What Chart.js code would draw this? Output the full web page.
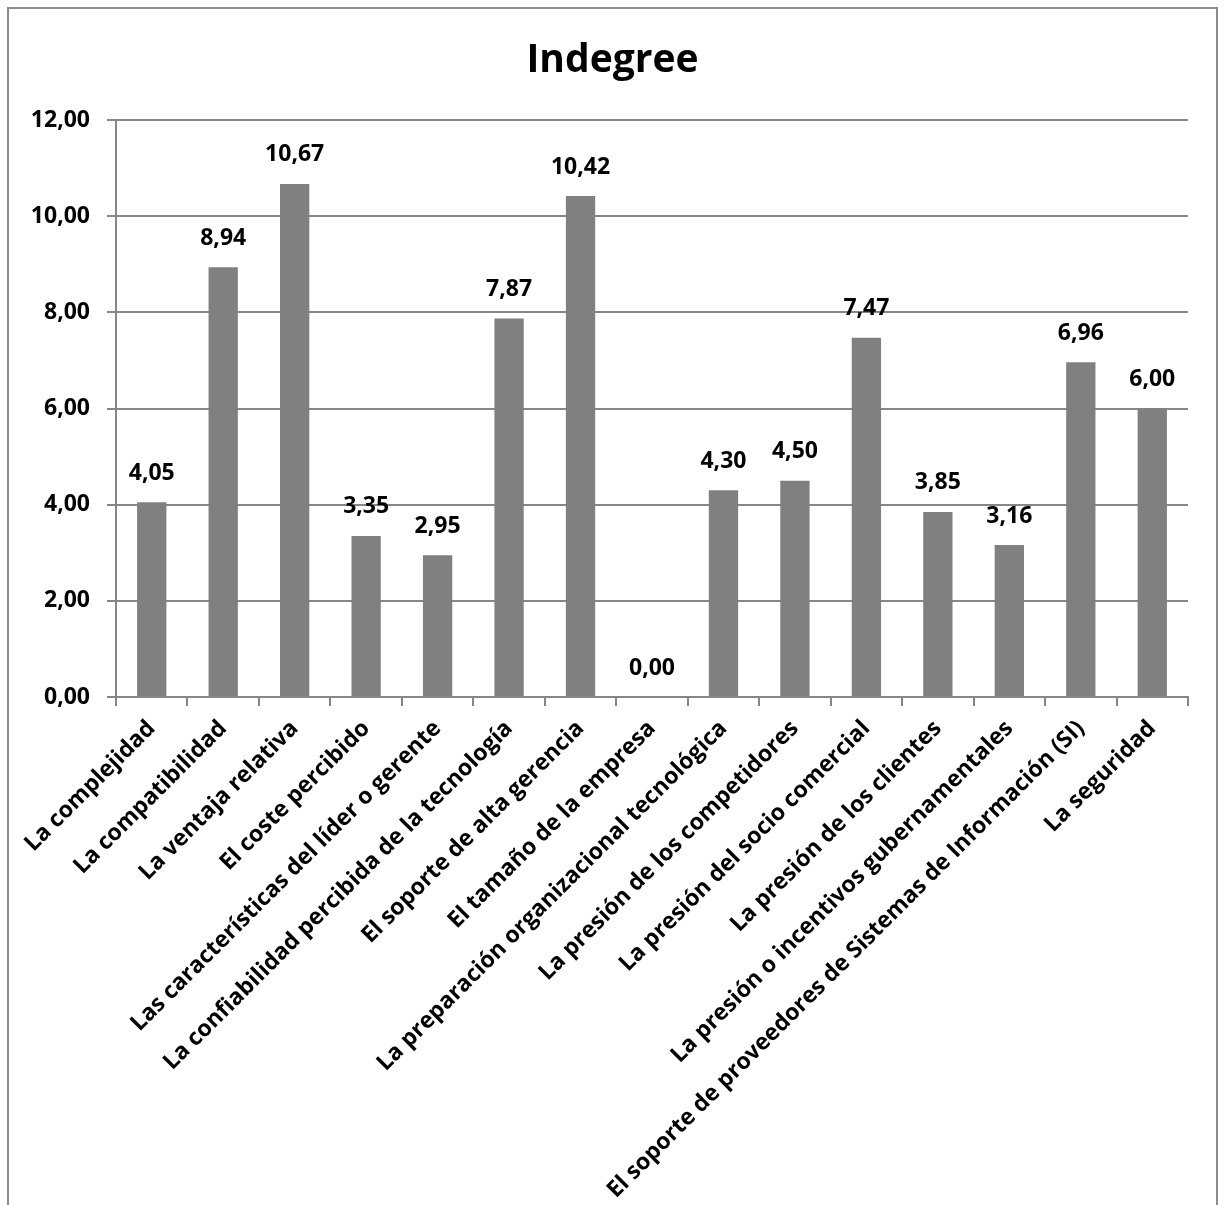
<!DOCTYPE html>
<html>
<head>
<meta charset="utf-8">
<script src="https://cdn.jsdelivr.net/npm/chart.js@4/dist/chart.umd.min.js"></script>
<style>
  html, body { margin: 0; padding: 0; background: #fff; }
  #wrap { width: 1225px; height: 1205px; position: relative; }
</style>
</head>
<body>
<div id="wrap"><canvas id="c" width="1225" height="1205"></canvas></div>
<script>
// Indegree per factor
const chartTitle = "Indegree";
const categories = [
  "La complejidad",
  "La compatibilidad",
  "La ventaja relativa",
  "El coste percibido",
  "Las características del líder o gerente",
  "La confiabilidad percibida de la tecnología",
  "El soporte de alta gerencia",
  "El tamaño de la empresa",
  "La preparación organizacional tecnológica",
  "La presión de los competidores",
  "La presión del socio comercial",
  "La presión de los clientes",
  "La presión o incentivos gubernamentales",
  "El soporte de proveedores de Sistemas de Información (SI)",
  "La seguridad"
];
const indegree = [4.05, 8.94, 10.67, 3.35, 2.95, 7.87, 10.42, 0.00, 4.30, 4.50, 7.47, 3.85, 3.16, 6.96, 6.00];
const yTicks = [0, 2, 4, 6, 8, 10, 12];

const FONT = "'Open Sans', Lato, 'Liberation Sans', sans-serif";
const fmt = v => v.toFixed(2).replace('.', ',');

// white background, outer frame and the centred title
const framePlugin = {
  id: 'frame',
  beforeDraw(chart) {
    const ctx = chart.ctx;
    ctx.save();
    ctx.fillStyle = '#ffffff';
    ctx.fillRect(0, 0, chart.width, chart.height);
    ctx.strokeStyle = '#8c8c8c';
    ctx.lineWidth = 2;
    ctx.strokeRect(8, 8, 1209, 1220);
    ctx.font = "bold 39px " + FONT;
    ctx.fillStyle = '#000';
    ctx.textAlign = 'center';
    ctx.textBaseline = 'alphabetic';
    ctx.fillText(chartTitle, chart.width / 2, 72);
    ctx.restore();
  }
};

// value labels above each bar
const valueLabels = {
  id: 'valueLabels',
  afterDatasetsDraw(chart) {
    const ctx = chart.ctx;
    const meta = chart.getDatasetMeta(0);
    ctx.save();
    ctx.font = "bold 23px " + FONT;
    ctx.fillStyle = '#000';
    ctx.textAlign = 'center';
    ctx.textBaseline = 'middle';
    meta.data.forEach((bar, i) => {
      ctx.fillText(fmt(indegree[i]), bar.x, bar.y - 29);
    });
    ctx.restore();
  }
};

new Chart(document.getElementById('c'), {
  type: 'bar',
  data: {
    labels: categories,
    datasets: [{
      data: indegree,
      backgroundColor: '#808080',
      borderWidth: 0,
      categoryPercentage: 1.0,
      barPercentage: 0.41
    }]
  },
  options: {
    responsive: false,
    animation: false,
    layout: { padding: { top: 120, left: 0, right: 37, bottom: 0 } },
    plugins: {
      legend: { display: false },
      tooltip: { enabled: false },
      title: { display: false }
    },
    scales: {
      x: {
        grid: {
          display: true,
          offset: true,
          drawOnChartArea: false,
          drawTicks: true,
          tickLength: 9,
          color: '#868686',
          lineWidth: 2
        },
        border: { display: true, color: '#868686', width: 2 },
        ticks: {
          autoSkip: false,
          maxRotation: 45,
          minRotation: 45,
          padding: 9,
          color: '#000',
          font: { family: FONT, size: 23, weight: 'bold' }
        },
        afterFit(scale) { scale.height = 1205 - 697; }
      },
      y: {
        min: 0,
        max: 12,
        afterBuildTicks(scale) { scale.ticks = yTicks.map(v => ({ value: v })); },
        grid: {
          color: '#868686',
          lineWidth: 2,
          drawTicks: true,
          tickLength: 9
        },
        border: { display: true, color: '#868686', width: 2 },
        ticks: {
          padding: 17,
          color: '#000',
          font: { family: FONT, size: 23, weight: 'bold' },
          callback: v => fmt(v)
        },
        afterFit(scale) { scale.width = 116; }
      }
    }
  },
  plugins: [framePlugin, valueLabels]
});
</script>
</body>
</html>
